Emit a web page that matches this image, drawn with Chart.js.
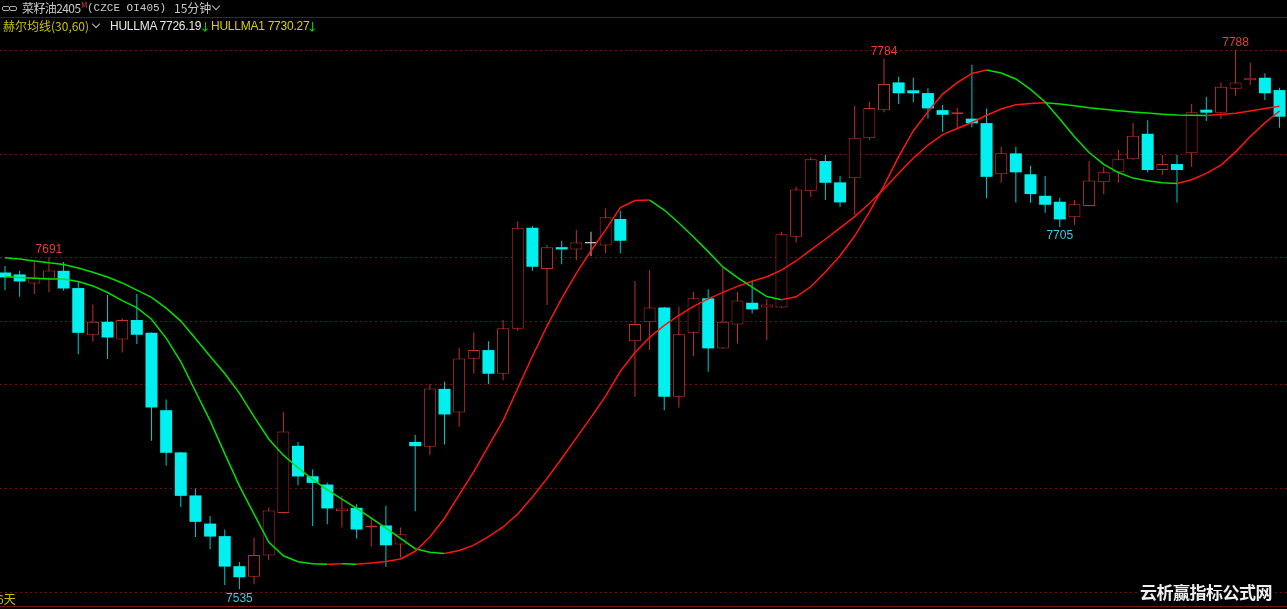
<!DOCTYPE html>
<html><head><meta charset="utf-8">
<script src="https://cdn.jsdelivr.net/npm/chart.js@4/dist/chart.umd.min.js"></script>
<style>
html,body{margin:0;padding:0;background:#000;overflow:hidden;}
#wrap{position:relative;width:1287px;height:609px;background:#000;}
canvas{position:absolute;left:0;top:0;}
.t{position:absolute;white-space:nowrap;font-family:"Noto Sans CJK SC","Liberation Sans",sans-serif;font-size:12px;line-height:14px;}
.chev{display:inline-block;width:5px;height:5px;border-right:1px solid #bbb;border-bottom:1px solid #bbb;transform:rotate(45deg);}
.ico{position:absolute;width:6px;height:3px;border:1px solid #aaa;border-radius:2px;}
.arr{position:absolute;width:1px;height:9px;background:#00d000;}
.arr:after{content:"";position:absolute;left:-2px;top:5px;width:3px;height:3px;border-right:1px solid #00d000;border-bottom:1px solid #00d000;transform:rotate(45deg);}
.hv{font-family:'Liberation Sans',sans-serif;letter-spacing:-0.25px;}
</style></head>
<body>
<div id="wrap">
<canvas id="c" width="1287" height="609"></canvas>
<div class="ico" style="left:2px;top:6px"></div>
<div class="ico" style="left:9px;top:6px"></div>
<div class="t" style="left:22px;top:1px;color:#c8c8c8;letter-spacing:-0.6px">菜籽油2405</div>
<div class="t" style="left:81px;top:-2px;color:#e03030;font-size:8px">M</div>
<div class="t" style="left:87px;top:1px;color:#c8c8c8;font-family:'Liberation Mono',monospace;font-size:11px">(CZCE OI405)</div>
<div class="t" style="left:174px;top:1px;color:#c8c8c8">15分钟</div>
<div class="chev" style="position:absolute;left:213px;top:3px"></div>
<div style="position:absolute;left:0;top:17px;width:1287px;height:1px;background:#6a1010"></div>
<div class="t" style="left:3px;top:19px;color:#c8c000">赫尔均线(30,60)</div>
<div class="chev" style="position:absolute;left:93px;top:21px"></div>
<div class="t hv" style="left:110px;top:19px;color:#e8e8e8">HULLMA 7726.19</div>
<div class="arr" style="left:205px;top:22px"></div>
<div class="t hv" style="left:211px;top:19px;color:#d8d000">HULLMA1 7730.27</div>
<div class="arr" style="left:312px;top:22px"></div>
<div class="t" style="left:-3px;top:592px;color:#c8c000">6天</div>
<div style="position:absolute;left:0;top:606px;width:1287px;height:1px;background:#7a1414"></div>
<div class="t" style="left:1138px;top:582px;color:#f0f0f0;background:#000;font-weight:bold;font-size:17px;line-height:20px;padding:0 2px;letter-spacing:-0.5px">云析赢指标公式网</div>
</div>
<script>
const openP = [7683.6,7682.7,7678.5,7680.8,7684.4,7676.3,7654.2,7660.5,7652.2,7661.3,7655.3,7619.0,7599.2,7579.0,7565.8,7559.9,7545.8,7540.8,7550.8,7570.8,7602.3,7588.0,7584.1,7571.6,7573.2,7564.0,7564.9,7556.0,7604.1,7601.8,7629.0,7617.9,7643.1,7647.2,7636.1,7657.2,7704.6,7685.3,7695.5,7694.4,7697.6,7696.3,7708.7,7651.3,7660.3,7667.2,7625.3,7655.3,7671.5,7648.0,7659.2,7669.4,7667.2,7667.2,7700.4,7721.7,7735.9,7725.9,7727.8,7746.6,7759.7,7772.8,7769.1,7767.8,7759.8,7757.8,7755.8,7753.7,7729.7,7739.5,7729.7,7719.6,7716.8,7709.5,7714.8,7725.9,7730.6,7736.7,7748.7,7731.7,7734.5,7739.5,7760.0,7758.6,7769.8,7773.8,7775.0,7769.2];
const highP = [7686.6,7684.4,7688.6,7691,7688.5,7679.1,7668.6,7673.0,7662.1,7673.5,7655.5,7624.0,7599.4,7582.3,7569.3,7563.0,7547.8,7559.1,7573.2,7618.2,7604.1,7591.2,7584.9,7578.8,7574.9,7568.9,7574.1,7564.0,7607.3,7631.2,7632.3,7648.3,7655.5,7651.4,7661.3,7707.7,7705.5,7696.5,7698.5,7703.5,7702.7,7713.7,7712.6,7679.6,7684.7,7667.5,7667.5,7674.5,7675.7,7686.0,7674.5,7679.6,7671.1,7702.7,7723.8,7737.6,7738.7,7728.9,7761.9,7763.7,7784,7775.5,7775.0,7770.0,7762.2,7760.9,7781.0,7760.6,7742.6,7742.6,7733.7,7728.9,7718.7,7717.6,7735.9,7733.2,7741.1,7753.7,7755.1,7738.7,7738.7,7762.7,7766.1,7772.8,7788,7782.0,7777.1,7770.3];
const lowP = [7675.3,7672.2,7673.5,7674.3,7675.0,7645.2,7651.1,7643.0,7646.1,7650.0,7604.6,7592.9,7573.6,7559.5,7553.8,7537.0,7535,7537.3,7548.6,7570.5,7583.8,7564.7,7565.5,7564.0,7558.8,7554.9,7545.5,7549.9,7571.6,7597.9,7602.9,7611.2,7636.1,7631.2,7633.0,7656.2,7684.4,7668.3,7687.5,7689.4,7691.3,7692.6,7692.6,7625.3,7647.2,7619.0,7620.1,7644.4,7637.0,7647.8,7650.3,7664.4,7651.9,7667.0,7697.6,7719.1,7717.6,7714.4,7710.6,7745.8,7758.8,7762.7,7763.5,7755.9,7749.7,7750.9,7751.7,7718.4,7725.7,7716.5,7716.3,7711.6,7705,7706.0,7714.6,7720.3,7725.7,7736.5,7730.6,7729.3,7716.5,7733.2,7754.7,7755.6,7766.5,7771.6,7764.5,7751.5];
const closeP = [7681.3,7679.4,7681.3,7684.6,7676.1,7655.3,7660.5,7653.1,7661.3,7654.4,7620.3,7599.0,7578.8,7566.6,7559.7,7545.6,7540.6,7551.0,7571.9,7609.0,7587.9,7584.9,7572.9,7572.9,7563.0,7564.9,7555.6,7560.8,7602.1,7629.2,7617.0,7643.3,7647.2,7636.1,7657.4,7704.6,7686.3,7695.4,7694.4,7697.7,7697.6,7709.5,7698.5,7659.4,7667.2,7625.3,7654.6,7671.5,7648.0,7660.5,7670.5,7666.3,7668.6,7701.5,7722.6,7736.7,7725.7,7716.5,7746.8,7760.8,7772.0,7767.7,7767.7,7760.6,7757.6,7758.8,7753.6,7728.5,7739.5,7730.6,7720.4,7715.4,7708.5,7715.6,7726.8,7730.7,7736.8,7747.8,7731.7,7734.5,7731.7,7758.8,7758.6,7770.8,7772.8,7775.0,7767.7,7756.7];
const hullma = [7681.7,7681.3,7680.9,7680.6,7680.5,7679.4,7677.3,7674.2,7670.4,7667.1,7661.7,7652.8,7641.8,7627.9,7614.1,7598.6,7583.5,7570.2,7557.1,7550.7,7547.9,7547.0,7546.7,7546.9,7546.7,7547.3,7548.0,7549.2,7552.8,7559.5,7568.3,7579.3,7590.2,7602.1,7614.1,7629.3,7644.3,7658.5,7671.5,7683.2,7693.8,7703.6,7714.1,7717.4,7717.6,7712.9,7706.8,7700.3,7693.4,7686.2,7681.2,7676.7,7672.3,7670.8,7672.2,7676.9,7683.8,7691.5,7700.7,7711.9,7724.4,7738.0,7750.0,7759.1,7767.3,7772.7,7777.0,7778.6,7777.2,7774.4,7769.5,7763.6,7755.6,7747.3,7739.9,7734.3,7730.5,7727.9,7726.6,7725.7,7725.4,7727.1,7730.1,7734.0,7740.2,7747.4,7753.8,7759.4];
const hullma1 = [7690.5,7689.9,7689.0,7688.2,7687.4,7685.7,7683.7,7681.5,7678.7,7675.3,7671.9,7666.9,7660.8,7652.6,7644.3,7636.2,7627.0,7616.0,7605.5,7597.9,7592.0,7586.5,7581.6,7577.3,7572.9,7568.3,7563.7,7558.9,7554.0,7552.3,7551.8,7553.2,7555.7,7559.7,7564.2,7570.3,7578.3,7587.0,7596.3,7606.0,7615.6,7625.6,7637.2,7646.1,7653.2,7658.8,7663.5,7667.7,7671.2,7674.3,7677.1,7679.5,7681.6,7684.7,7689.0,7694.2,7699.2,7704.5,7709.8,7716.0,7722.8,7730.2,7737.2,7743.4,7748.3,7751.2,7754.0,7757.4,7760.3,7762.3,7762.9,7763.3,7762.7,7761.8,7760.9,7760.2,7759.5,7758.9,7758.4,7757.9,7757.5,7757.4,7757.3,7757.7,7758.3,7759.4,7760.6,7761.6];
const gridPrices = [7788.0,7739.2,7690.8,7660.8,7631.2,7582.4,7533.6];
const markHighs = [3,60,84];
const markLows = [16,72];

const RED='#c0302e', CYAN='#00f0f0', CYANW='#00c8c8', GRAY='#c8c8c8';
const idx = openP.map((_,i)=>i);
const col = i => closeP[i]>openP[i]?RED:(closeP[i]<openP[i]?CYAN:GRAY);
const wickCol = i => closeP[i]>openP[i]?RED:(closeP[i]<openP[i]?CYANW:GRAY);
const wickData = idx.map(i=>({x:i,y:[lowP[i],highP[i]]}));
const bodyData = idx.map(i=>{let a=Math.min(openP[i],closeP[i]),b=Math.max(openP[i],closeP[i]);if(b-a<0.6){const m=(a+b)/2;a=m-0.3;b=m+0.3;}return {x:i,y:[a,b]};});
const segCol = ctx => ctx.p1.parsed.y>=ctx.p0.parsed.y?'#ff1414':'#00e000';

const gridPlugin = {
  id:'grid',
  beforeDatasetsDraw(chart){
    const {ctx,chartArea,scales:{y}} = chart;
    ctx.save();
    ctx.strokeStyle='#701010';ctx.lineWidth=1;ctx.setLineDash([2,3]);
    gridPrices.forEach(p=>{const py=Math.round(y.getPixelForValue(p))+0.5;ctx.beginPath();ctx.moveTo(chartArea.left,py);ctx.lineTo(chartArea.right,py);ctx.stroke();});
    ctx.restore();
  },
  afterDatasetsDraw(chart){
    const {ctx,scales:{x,y}} = chart;
    ctx.save();
    ctx.font='12px "Liberation Sans", sans-serif';ctx.textAlign='center';
    ctx.fillStyle='#e63c3c';ctx.textBaseline='bottom';
    markHighs.forEach(i=>ctx.fillText(String(Math.round(highP[i])),x.getPixelForValue(i),y.getPixelForValue(highP[i])-1));
    ctx.fillStyle='#3cc8dc';ctx.textBaseline='top';
    markLows.forEach(i=>ctx.fillText(String(Math.round(lowP[i])),x.getPixelForValue(i),y.getPixelForValue(lowP[i])+3));
    ctx.restore();
  }
};

new Chart(document.getElementById('c'),{
  type:'bar',
  data:{datasets:[
    {type:'line',label:'HULLMA',data:idx.map(i=>({x:i,y:hullma[i]})),borderColor:'#00e000',segment:{borderColor:segCol},borderWidth:1.5,pointRadius:0,tension:0,order:0},
    {type:'line',label:'HULLMA1',data:idx.map(i=>({x:i,y:hullma1[i]})),borderColor:'#00e000',segment:{borderColor:segCol},borderWidth:1.5,pointRadius:0,tension:0,order:0},
    {type:'bar',label:'body',data:bodyData,barThickness:12,grouped:false,backgroundColor:idx.map(i=>closeP[i]>openP[i]?'#000':col(i)),borderColor:idx.map(col),borderWidth:idx.map(i=>closeP[i]>openP[i]?1:0),borderSkipped:false,inflateAmount:0,order:1},
    {type:'bar',label:'wick',data:wickData,barThickness:1,grouped:false,backgroundColor:idx.map(wickCol),borderWidth:0,inflateAmount:0,order:2}
  ]},
  options:{
    responsive:false,animation:false,
    layout:{padding:{top:19,bottom:2,left:0,right:0}},
    scales:{
      x:{type:'linear',min:-0.341,max:87.509,display:false,offset:false},
      y:{min:7526.65,max:7802.55,display:false}
    },
    plugins:{legend:{display:false},tooltip:{enabled:false}}
  },
  plugins:[gridPlugin]
});
</script>
</body></html>
